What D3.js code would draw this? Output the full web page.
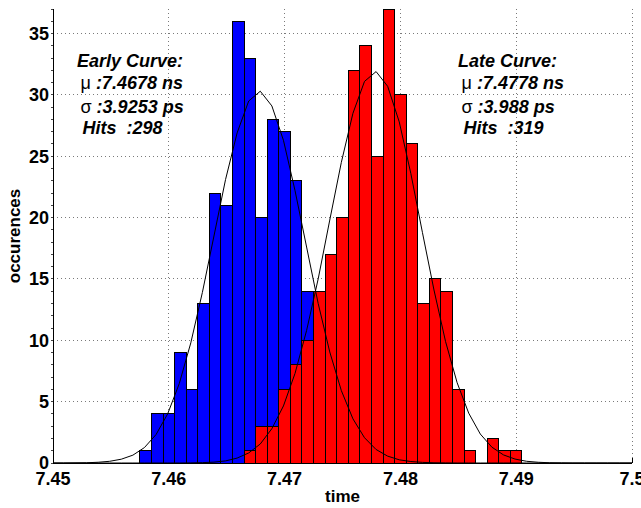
<!DOCTYPE html>
<meta charset="utf-8">
<style>
  body { margin: 0; background: #fff; }
  text { font-family: "Liberation Sans", Arial, Helvetica, sans-serif; }
</style>
<script src="https://d3js.org/d3.v7.min.js"></script>
<div id="chart"></div>
<script>

// histogram bin centres (ns) and counts
var binWidth = 0.001;
var earlyCenters = [7.458, 7.459, 7.460, 7.461, 7.462, 7.463, 7.464, 7.465, 7.466, 7.467, 7.468,
                    7.469, 7.470, 7.471, 7.472, 7.473, 7.474, 7.475, 7.476, 7.477, 7.478, 7.479];
var earlyCounts  = [1, 4, 4, 9, 6, 13, 22, 21, 36, 33, 20,
                    28, 27, 23, 14, 12, 10, 7, 4, 2, 1, 1];
var lateCenters  = [7.467, 7.468, 7.469, 7.470, 7.471, 7.472, 7.473, 7.474, 7.475, 7.476, 7.477, 7.478,
                    7.479, 7.480, 7.481, 7.482, 7.483, 7.484, 7.485, 7.486, 7.487, 7.488, 7.489, 7.490];
var lateCounts   = [1, 3, 3, 6, 8, 10, 14, 17, 20, 32, 34, 25,
                    37, 30, 26, 13, 15, 14, 6, 1, 0, 2, 1, 1];

// fitted curves
var curveX = [7.4500,
  7.4509, 7.4519, 7.4529, 7.4539, 7.4549, 7.4559, 7.4569, 7.4579, 7.4589, 7.4599,
  7.4609, 7.4619, 7.4629, 7.4639, 7.4649, 7.4659, 7.4669, 7.4679, 7.4689, 7.4699,
  7.4709, 7.4719, 7.4729, 7.4739, 7.4749, 7.4759, 7.4769, 7.4779, 7.4789, 7.4799,
  7.4809, 7.4819, 7.4829, 7.4839, 7.4849, 7.4859, 7.4869, 7.4879, 7.4889, 7.4899,
  7.4909, 7.4919, 7.4929, 7.4939, 7.4949, 7.4959, 7.4969, 7.4979, 7.4989, 7.4999,
  7.5000];
var earlyFit = [0,
  0.00, 0.01, 0.02, 0.06, 0.14, 0.31, 0.64, 1.26, 2.32, 4.00,
  6.46, 9.79, 13.9, 18.5, 23.1, 26.9, 29.5, 30.3, 29.1, 26.3,
  22.2, 17.6, 13.0, 9.05, 5.90, 3.60, 2.06, 1.10, 0.56, 0.26,
  0.12, 0.05, 0.02, 0.01, 0, 0, 0, 0, 0, 0,
  0, 0, 0, 0, 0, 0, 0, 0, 0, 0,
  0];
var lateFit = [0,
  0, 0, 0, 0, 0, 0, 0, 0, 0, 0,
  0, 0.01, 0.03, 0.07, 0.17, 0.40, 0.82, 1.55, 2.80, 4.65,
  7.30, 10.8, 15.0, 19.8, 24.5, 28.5, 31.1, 31.9, 30.7, 27.8,
  23.6, 18.8, 14.1, 9.90, 6.54, 4.06, 2.36, 1.29, 0.66, 0.32,
  0.14, 0.06, 0.02, 0.01, 0, 0, 0, 0, 0, 0,
  0];

var xTicks = [7.45, 7.46, 7.47, 7.48, 7.49, 7.5];
var xTickLabels = ["7.45", "7.46", "7.47", "7.48", "7.49", "7.5"];
var yTicks = [0, 5, 10, 15, 20, 25, 30, 35];

var width = 641, height = 508;
var plotLeft = 53, plotRight = 632, plotTop = 9, plotBottom = 463;

var svg = d3.select("#chart").append("svg")
    .attr("width", width)
    .attr("height", height);

var x = d3.scaleLinear().domain([7.45, 7.5]).range([plotLeft, plotRight]);
var y = d3.scaleLinear().domain([0, 37]).range([plotBottom, plotTop]);

// grid
var grid = svg.append("g")
    .attr("stroke", "#7a7a7a")
    .attr("stroke-dasharray", "1,3")
    .attr("shape-rendering", "crispEdges");
grid.selectAll(".vg").data(xTicks.slice(1)).enter().append("line")
    .attr("x1", d => x(d)).attr("x2", d => x(d))
    .attr("y1", plotTop).attr("y2", plotBottom);
grid.selectAll(".hg").data(yTicks.slice(1)).enter().append("line")
    .attr("x1", plotLeft).attr("x2", plotRight)
    .attr("y1", d => y(d)).attr("y2", d => y(d));

// x ticks (inward, under the bars)
svg.append("g").selectAll("line").data(xTicks).enter().append("line")
    .attr("x1", d => x(d)).attr("x2", d => x(d))
    .attr("y1", plotBottom).attr("y2", plotBottom - 5)
    .attr("stroke", "#000")
    .attr("shape-rendering", "crispEdges");

function bars(centers, counts, colour) {
  svg.append("g").selectAll("rect")
    .data(centers.map((c, i) => ({c: c, n: counts[i]})).filter(d => d.n > 0))
    .enter().append("rect")
      .attr("x", d => x(d.c - binWidth / 2))
      .attr("width", d => x(d.c + binWidth / 2) - x(d.c - binWidth / 2))
      .attr("y", d => y(d.n))
      .attr("height", d => y(0) - y(d.n))
      .attr("fill", colour)
      .attr("stroke", "#000")
      .attr("stroke-width", 1)
      .attr("shape-rendering", "crispEdges");
}
bars(earlyCenters, earlyCounts, "#0000ff");
bars(lateCenters, lateCounts, "#ff0000");

var line = d3.line().x(d => x(d[0])).y(d => y(d[1]));
[earlyFit, lateFit].forEach(function(fit) {
  svg.append("path")
    .datum(curveX.map((v, i) => [v, fit[i]]))
    .attr("d", line)
    .attr("fill", "none")
    .attr("stroke", "#000")
    .attr("stroke-width", 1);
});

// axes
svg.append("line").attr("x1", plotLeft).attr("x2", plotLeft).attr("y1", plotTop).attr("y2", plotBottom + 0.5)
    .attr("stroke", "#000").attr("shape-rendering", "crispEdges");
svg.append("line").attr("x1", plotLeft).attr("x2", plotRight).attr("y1", plotBottom).attr("y2", plotBottom)
    .attr("stroke", "#000").attr("shape-rendering", "crispEdges");

// y minor ticks
svg.append("g").selectAll("line").data(d3.range(0, 38)).enter().append("line")
    .attr("x1", plotLeft - 2).attr("x2", plotLeft)
    .attr("y1", d => y(d)).attr("y2", d => y(d))
    .attr("stroke", "#444")
    .attr("shape-rendering", "crispEdges");

svg.append("g").selectAll("text").data(yTicks).enter().append("text")
    .attr("x", plotLeft - 4)
    .attr("y", d => y(d))
    .attr("dy", "0.36em")
    .attr("text-anchor", "end")
    .attr("font-size", 18).attr("font-weight", "bold")
    .text(d => d);

svg.append("g").selectAll("text").data(xTicks).enter().append("text")
    .attr("x", d => x(d))
    .attr("y", 485)
    .attr("text-anchor", "middle")
    .attr("font-size", 18).attr("font-weight", "bold")
    .text((d, i) => xTickLabels[i]);

svg.append("text")
    .attr("x", (plotLeft + plotRight) / 2)
    .attr("y", 502)
    .attr("text-anchor", "middle")
    .attr("font-size", 17).attr("font-weight", "bold")
    .text("time");

svg.append("text")
    .attr("transform", "translate(20," + ((plotTop + plotBottom) / 2) + ") rotate(-90)")
    .attr("text-anchor", "middle")
    .attr("font-size", 17).attr("font-weight", "bold")
    .text("occurences");

// annotations
function note(x0, title, mu, sigma, hits) {
  var g = svg.append("g").attr("font-size", 18);
  g.append("text").attr("x", x0).attr("y", 66.5)
    .attr("font-weight", "bold").attr("font-style", "italic").text(title);
  var t2 = g.append("text").attr("x", x0 + 3.5).attr("y", 88.5).style("white-space", "pre");
  t2.append("tspan").text("\u03bc");
  t2.append("tspan").attr("font-weight", "bold").attr("font-style", "italic").text(" :" + mu);
  var t3 = g.append("text").attr("x", x0 + 3.5).attr("y", 112.5).style("white-space", "pre");
  t3.append("tspan").text("\u03c3");
  t3.append("tspan").attr("font-weight", "bold").attr("font-style", "italic").text(" :" + sigma);
  g.append("text").attr("x", x0 + 5.5).attr("y", 133.5).style("white-space", "pre")
    .attr("font-weight", "bold").attr("font-style", "italic").text("Hits  :" + hits);
}
note(77, "Early Curve:", "7.4678 ns", "3.9253 ps", "298");
note(458, "Late Curve:", "7.4778 ns", "3.988 ps", "319");

</script>
